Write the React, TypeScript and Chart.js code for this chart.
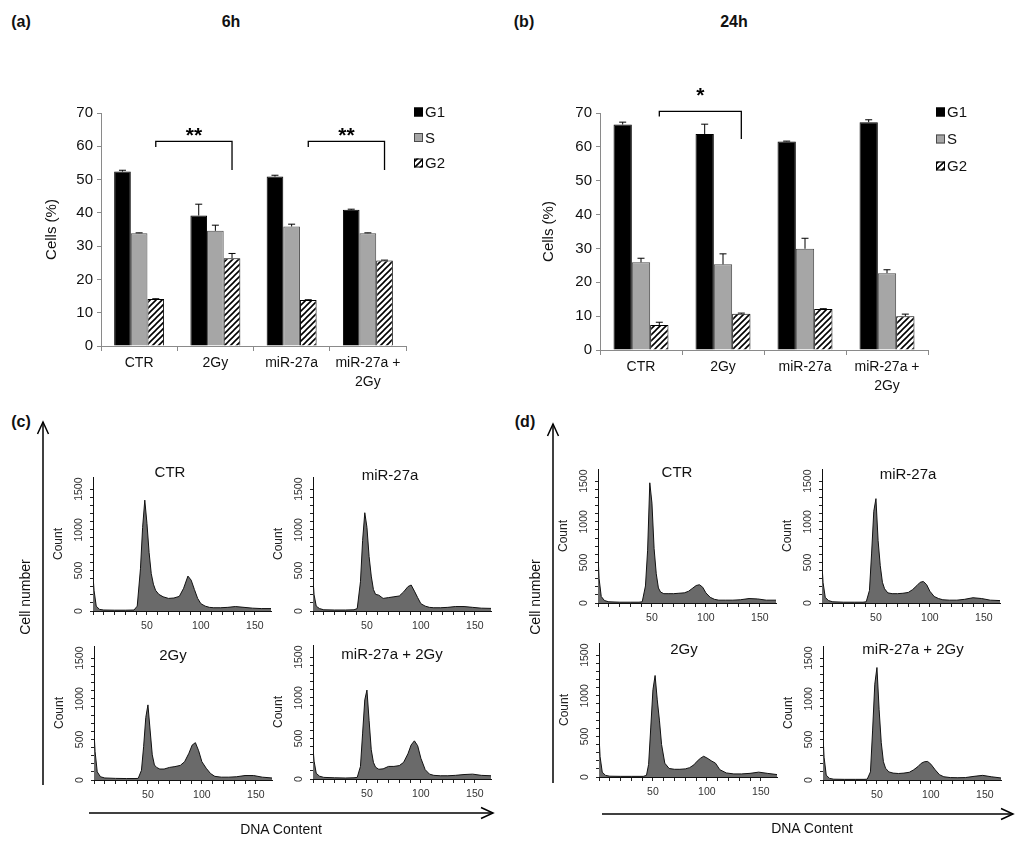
import React, { useEffect, useRef } from 'react';
import { Chart, registerables } from 'chart.js';

Chart.register(...registerables);

const FONT = 'Arial, "Liberation Sans", Helvetica, sans-serif';

// ---- (a) / (b) cell cycle bars ----
const groupLabels: (string | string[])[] = ['CTR', '2Gy', 'miR-27a', ['miR-27a +', '2Gy']];
const phaseNames = ['G1', 'S', 'G2'];

const g1At6h = [52.4, 39.2, 50.9, 40.9];
const sAt6h = [33.9, 34.6, 35.9, 33.9];
const g2At6h = [14.1, 26.4, 13.8, 25.7];
const g1Err6h = [0.4, 3.4, 0.4, 0.2];
const sErr6h = [0.1, 1.7, 0.7, 0.1];
const g2Err6h = [0.1, 1.4, 0.1, 0.1];

const g1At24h = [66.6, 63.8, 61.6, 67.3];
const sAt24h = [25.9, 25.3, 29.9, 22.7];
const g2At24h = [7.4, 10.7, 12.1, 10.0];
const g1Err24h = [0.7, 2.9, 0.1, 0.7];
const sErr24h = [1.2, 3.1, 3.1, 1.0];
const g2Err24h = [0.8, 0.2, 0.1, 0.6];

// significance brackets (group index of G2 bars, heights in %)
const sig6hFrom = [0, 2];
const sig6hTo = [1, 3];
const sig6hTop = [61.5, 61.5];
const sig6hLeftEnd = [59.8, 59.8];
const sig6hRightEnd = [52.9, 52.9];
const sig6hMark = ['**', '**'];
const sig6hMarkAt = [63.0, 63.0];

const sig24hFrom = [0];
const sig24hTo = [1];
const sig24hTop = [70.5];
const sig24hLeftEnd = [69.0];
const sig24hRightEnd = [62.3];
const sig24hMark = ['*'];
const sig24hMarkAt = [75.0];

// ---- (c) / (d) DNA content histograms ----
const dnaChannel = [0, 1, 3, 6, 10, 20, 30, 38, 41, 44, 46, 48, 50, 52, 54, 56, 58, 61, 65, 70, 75, 80, 84, 88, 91, 94, 97, 100, 104, 108, 112, 118, 125, 132, 140, 148, 156, 165];
const countTicks = [0, 500, 1000, 1500];

const ctr6h = [435, 250, 60, 20, 12, 10, 10, 12, 60, 520, 1030, 1365, 1080, 720, 460, 330, 255, 205, 175, 155, 160, 180, 280, 430, 380, 265, 155, 90, 60, 45, 40, 40, 45, 55, 45, 35, 30, 30];
const mir6h = [390, 200, 60, 30, 15, 12, 12, 15, 30, 360, 870, 1210, 1030, 670, 430, 265, 205, 195, 155, 165, 175, 185, 235, 300, 320, 245, 165, 90, 60, 45, 40, 40, 45, 55, 55, 45, 35, 32];
const gy6h = [595, 350, 100, 40, 25, 20, 18, 18, 20, 120, 410, 770, 925, 615, 310, 185, 155, 135, 135, 155, 165, 180, 225, 330, 430, 460, 360, 225, 145, 80, 45, 35, 35, 40, 55, 55, 35, 25];
const mirGy6h = [385, 220, 70, 35, 20, 15, 12, 15, 20, 155, 565, 975, 1095, 720, 360, 205, 145, 120, 125, 155, 155, 165, 205, 310, 420, 470, 410, 255, 115, 60, 45, 40, 40, 45, 55, 60, 45, 40];

const ctr24h = [595, 300, 80, 30, 15, 10, 10, 10, 15, 210, 650, 1480, 1230, 670, 360, 185, 135, 115, 115, 115, 120, 125, 145, 185, 215, 225, 195, 125, 70, 45, 35, 35, 35, 40, 55, 50, 35, 35];
const mir24h = [465, 250, 70, 30, 15, 10, 10, 10, 15, 155, 615, 1130, 1285, 770, 460, 255, 175, 125, 115, 115, 120, 130, 165, 215, 255, 265, 225, 145, 80, 55, 40, 35, 35, 45, 65, 55, 35, 30];
const gy24h = [510, 250, 60, 20, 10, 8, 8, 8, 8, 20, 155, 615, 1075, 1250, 950, 700, 400, 170, 105, 95, 95, 100, 115, 150, 195, 230, 255, 235, 200, 170, 90, 50, 38, 38, 45, 60, 45, 30];
const mirGy24h = [550, 280, 60, 20, 10, 8, 8, 8, 10, 100, 615, 1180, 1385, 870, 460, 225, 145, 100, 85, 80, 85, 95, 125, 165, 205, 225, 228, 195, 125, 65, 40, 30, 28, 30, 45, 57, 40, 25];

function makeHatch(): CanvasPattern | string {
  const tile = document.createElement('canvas');
  tile.width = 6;
  tile.height = 6;
  const c = tile.getContext('2d');
  if (!c) return '#fff';
  c.fillStyle = '#fff';
  c.fillRect(0, 0, 6, 6);
  c.strokeStyle = '#000';
  c.lineWidth = 1.6;
  c.beginPath();
  c.moveTo(0, 6); c.lineTo(6, 0);
  c.moveTo(-1, 1); c.lineTo(1, -1);
  c.moveTo(5, 7); c.lineTo(7, 5);
  c.stroke();
  return c.createPattern(tile, 'repeat') || '#fff';
}

interface BarBox {
  left: number; top: number; width: number; height: number;
  axisWidth: number; padTop: number; padRight: number; xAxisHeight: number;
  titlePad: number; legendGap: number; groupShare: number;
}

interface BarPanelProps {
  g1: number[]; s: number[]; g2: number[];
  g1Err: number[]; sErr: number[]; g2Err: number[];
  sigFrom: number[]; sigTo: number[]; sigTop: number[];
  sigLeftEnd: number[]; sigRightEnd: number[]; sigMark: string[]; sigMarkAt: number[];
  box: BarBox;
}

const BarPanel: React.FC<BarPanelProps> = (p) => {
  const ref = useRef<HTMLCanvasElement | null>(null);

  useEffect(() => {
    const ctx = ref.current?.getContext('2d');
    if (!ctx) return;
    const { box } = p;
    const hatch = makeHatch();
    const errs = [p.g1Err, p.sErr, p.g2Err];

    const errorBars = {
      id: 'errorBars',
      afterDatasetsDraw(chart: any) {
        const c = chart.ctx;
        const y = chart.scales.y;
        c.save();
        c.strokeStyle = '#000';
        c.lineWidth = 1;
        errs.forEach((e, di) => {
          chart.getDatasetMeta(di).data.forEach((bar: any, i: number) => {
            const v = chart.data.datasets[di].data[i] as number;
            const top = y.getPixelForValue(v + e[i]);
            c.beginPath();
            c.moveTo(bar.x, bar.y);
            c.lineTo(bar.x, top);
            c.moveTo(bar.x - 3.5, top);
            c.lineTo(bar.x + 3.5, top);
            c.stroke();
          });
        });
        c.restore();
      },
    };

    const brackets = {
      id: 'sigBrackets',
      afterDraw(chart: any) {
        const c = chart.ctx;
        const y = chart.scales.y;
        const g2Bars = chart.getDatasetMeta(2).data;
        c.save();
        c.strokeStyle = '#000';
        c.fillStyle = '#000';
        c.lineWidth = 1.3;
        c.font = `bold 21px ${FONT}`;
        c.textAlign = 'center';
        c.textBaseline = 'middle';
        p.sigFrom.forEach((from, k) => {
          const xL = g2Bars[from].x;
          const xR = g2Bars[p.sigTo[k]].x;
          const yTop = y.getPixelForValue(p.sigTop[k]);
          c.beginPath();
          c.moveTo(xL, y.getPixelForValue(p.sigLeftEnd[k]));
          c.lineTo(xL, yTop);
          c.lineTo(xR, yTop);
          c.lineTo(xR, y.getPixelForValue(p.sigRightEnd[k]));
          c.stroke();
          c.fillText(p.sigMark[k], (xL + xR) / 2, y.getPixelForValue(p.sigMarkAt[k]));
        });
        c.restore();
      },
    };

    const sideLegend = {
      id: 'sideLegend',
      afterDraw(chart: any) {
        const c = chart.ctx;
        const area = chart.chartArea;
        c.save();
        chart.data.datasets.forEach((ds: any, i: number) => {
          const cy = area.top - 1 + i * box.legendGap;
          const x = area.right + 8;
          c.fillStyle = ds.backgroundColor;
          c.fillRect(x, cy - 4.5, 9, 9);
          c.strokeStyle = ds.borderColor;
          c.lineWidth = 1;
          c.strokeRect(x + 0.5, cy - 4, 8, 8);
          c.fillStyle = '#111';
          c.font = `15px ${FONT}`;
          c.textAlign = 'left';
          c.textBaseline = 'middle';
          c.fillText(ds.label, x + 11, cy + 1);
        });
        c.restore();
      },
    };

    const common = { barPercentage: 1, categoryPercentage: box.groupShare, borderWidth: 1 };
    const tickFont = { family: FONT, size: 14, lineHeight: 1.35 };

    const chart = new Chart(ctx, {
      type: 'bar',
      data: {
        labels: groupLabels as any,
        datasets: [
          { label: phaseNames[0], data: p.g1, backgroundColor: '#000', borderColor: '#000', ...common },
          { label: phaseNames[1], data: p.s, backgroundColor: '#a6a6a6', borderColor: '#4a4a4a', ...common },
          { label: phaseNames[2], data: p.g2, backgroundColor: hatch as any, borderColor: '#000', ...common },
        ],
      },
      options: {
        responsive: false,
        animation: false,
        layout: { padding: { top: box.padTop, right: box.padRight, left: 0, bottom: 0 } },
        plugins: { legend: { display: false }, tooltip: { enabled: false } },
        scales: {
          x: {
            grid: { display: true, drawOnChartArea: false, offset: true, tickLength: 5, color: '#8a8a8a' },
            border: { color: '#8a8a8a' },
            ticks: { font: tickFont, color: '#111', padding: 3, maxRotation: 0, autoSkip: false },
            afterFit: (sc: any) => { sc.height = box.xAxisHeight; },
          },
          y: {
            min: 0,
            max: 70,
            ticks: { stepSize: 10, font: { family: FONT, size: 15 }, color: '#111', padding: 4 },
            grid: { drawOnChartArea: false, tickLength: 4, color: '#8a8a8a' },
            border: { color: '#8a8a8a' },
            title: {
              display: true,
              text: 'Cells (%)',
              font: { family: FONT, size: 15 },
              color: '#111',
              padding: { top: box.titlePad, bottom: 0 },
            },
            afterFit: (sc: any) => { sc.width = box.axisWidth; },
          },
        },
      },
      plugins: [errorBars, brackets, sideLegend],
    });

    return () => {
      chart.destroy();
    };
  }, [p]);

  return (
    <canvas
      ref={ref}
      width={p.box.width}
      height={p.box.height}
      style={{ position: 'absolute', left: p.box.left, top: p.box.top }}
    />
  );
};

interface HistProps {
  title: string;
  counts: number[];
  left: number; // plot area left edge on the page
  top: number; // plot area top edge on the page
  titleDx: number;
  titleDy: number;
}

const PLOT_W = 178;
const PLOT_H = 134;
const Y_BOX = 62;
const TOP_PAD = 20;
const RIGHT_PAD = 10;
const X_BOX = 26;

const Histogram: React.FC<HistProps> = ({ title, counts, left, top, titleDx, titleDy }) => {
  const ref = useRef<HTMLCanvasElement | null>(null);

  useEffect(() => {
    const ctx = ref.current?.getContext('2d');
    if (!ctx) return;

    const histText = {
      id: 'histText',
      afterDraw(chart: any) {
        const c = chart.ctx;
        const area = chart.chartArea;
        const y = chart.scales.y;
        c.save();
        c.fillStyle = '#333';
        c.font = `10.5px ${FONT}`;
        c.textAlign = 'center';
        c.textBaseline = 'middle';
        countTicks.forEach((v) => {
          c.save();
          c.translate(area.left - 14, y.getPixelForValue(v));
          c.rotate(-Math.PI / 2);
          c.fillText(String(v), 0, 0);
          c.restore();
        });
        c.fillStyle = '#111';
        c.font = `15px ${FONT}`;
        c.fillText(title, area.left + titleDx, area.top + titleDy);
        c.restore();
      },
    };

    const chart = new Chart(ctx, {
      type: 'line',
      data: {
        datasets: [
          {
            label: title,
            data: dnaChannel.map((x, i) => ({ x, y: counts[i] })),
            fill: 'origin',
            backgroundColor: '#6a6a6a',
            borderColor: '#111',
            borderWidth: 1,
            pointRadius: 0,
            tension: 0,
          },
        ],
      },
      options: {
        responsive: false,
        animation: false,
        layout: { padding: { top: TOP_PAD, right: RIGHT_PAD, left: 0, bottom: 0 } },
        plugins: { legend: { display: false }, tooltip: { enabled: false } },
        scales: {
          x: {
            type: 'linear',
            min: 0,
            max: 165,
            ticks: {
              stepSize: 10,
              autoSkip: false,
              maxRotation: 0,
              padding: 5,
              font: { family: FONT, size: 10.5 },
              color: '#333',
              callback: (v: any) => (Number(v) % 50 === 0 && Number(v) > 0 ? String(v) : ''),
            },
            afterBuildTicks: (sc: any) => { sc.ticks = sc.ticks.filter((t: any) => t.value % 10 === 0); },
            grid: { drawOnChartArea: false, tickLength: 4, color: '#222' },
            border: { color: '#111' },
            afterFit: (sc: any) => { sc.height = X_BOX; },
          },
          y: {
            min: 0,
            max: 1650,
            ticks: { stepSize: 100, display: false },
            afterBuildTicks: (sc: any) => { sc.ticks = sc.ticks.filter((t: any) => t.value % 100 === 0); },
            grid: { drawOnChartArea: false, tickLength: 3, color: '#222' },
            border: { color: '#111' },
            title: {
              display: true,
              text: 'Count',
              font: { family: FONT, size: 12 },
              color: '#222',
              padding: { top: 20, bottom: 0 },
            },
            afterFit: (sc: any) => { sc.width = Y_BOX; },
          },
        },
      },
      plugins: [histText],
    });

    return () => {
      chart.destroy();
    };
  }, [title, counts, titleDx, titleDy]);

  return (
    <canvas
      ref={ref}
      width={Y_BOX + PLOT_W + RIGHT_PAD}
      height={TOP_PAD + PLOT_H + X_BOX}
      style={{ position: 'absolute', left: left - Y_BOX, top: top - TOP_PAD }}
    />
  );
};

const boxA: BarBox = {
  left: 0, top: 60, width: 470, height: 340,
  axisWidth: 101, padTop: 53, padRight: 64, xAxisHeight: 54,
  titlePad: 43, legendGap: 25.5, groupShare: 0.655,
};
const boxB: BarBox = {
  left: 500, top: 60, width: 490, height: 340,
  axisWidth: 100, padTop: 53, padRight: 62, xAxisHeight: 50,
  titlePad: 40, legendGap: 27, groupShare: 0.67,
};

const Label: React.FC<{ x: number; y: number; bold?: boolean; size: number; rotate?: boolean; children: React.ReactNode }> = ({ x, y, bold, size, rotate, children }) => (
  <div
    style={{
      position: 'absolute',
      left: x,
      top: y,
      transform: `translate(-50%, -50%)${rotate ? ' rotate(-90deg)' : ''}`,
      fontWeight: bold ? 'bold' : 'normal',
      fontSize: size,
      lineHeight: 1,
      whiteSpace: 'nowrap',
      color: '#111',
    }}
  >
    {children}
  </div>
);

const App: React.FC = () => {
  return (
    <div
      style={{
        position: 'absolute', left: 0, top: 0, width: 1024, height: 844,
        background: '#fff', fontFamily: FONT, overflow: 'hidden',
      }}
    >
      <Label x={21} y={22} bold size={16}>(a)</Label>
      <Label x={231} y={22} bold size={16}>6h</Label>
      <Label x={524} y={22} bold size={16}>(b)</Label>
      <Label x={734} y={22} bold size={16}>24h</Label>
      <Label x={21} y={422} bold size={16}>(c)</Label>
      <Label x={525} y={422} bold size={16}>(d)</Label>

      <BarPanel
        g1={g1At6h} s={sAt6h} g2={g2At6h}
        g1Err={g1Err6h} sErr={sErr6h} g2Err={g2Err6h}
        sigFrom={sig6hFrom} sigTo={sig6hTo} sigTop={sig6hTop}
        sigLeftEnd={sig6hLeftEnd} sigRightEnd={sig6hRightEnd}
        sigMark={sig6hMark} sigMarkAt={sig6hMarkAt}
        box={boxA}
      />
      <BarPanel
        g1={g1At24h} s={sAt24h} g2={g2At24h}
        g1Err={g1Err24h} sErr={sErr24h} g2Err={g2Err24h}
        sigFrom={sig24hFrom} sigTo={sig24hTo} sigTop={sig24hTop}
        sigLeftEnd={sig24hLeftEnd} sigRightEnd={sig24hRightEnd}
        sigMark={sig24hMark} sigMarkAt={sig24hMarkAt}
        box={boxB}
      />

      <Histogram title="CTR" counts={ctr6h} left={93} top={477} titleDx={77} titleDy={-4} />
      <Histogram title="miR-27a" counts={mir6h} left={313} top={477} titleDx={77} titleDy={-1} />
      <Histogram title="2Gy" counts={gy6h} left={94} top={646} titleDx={79} titleDy={10} />
      <Histogram title="miR-27a + 2Gy" counts={mirGy6h} left={313} top={645} titleDx={79} titleDy={10} />

      <Histogram title="CTR" counts={ctr24h} left={598} top={469} titleDx={79} titleDy={4} />
      <Histogram title="miR-27a" counts={mir24h} left={822} top={469} titleDx={86} titleDy={6} />
      <Histogram title="2Gy" counts={gy24h} left={599} top={643} titleDx={85} titleDy={7} />
      <Histogram title="miR-27a + 2Gy" counts={mirGy24h} left={823} top={646} titleDx={90} titleDy={4} />

      <svg width={1024} height={844} style={{ position: 'absolute', left: 0, top: 0, pointerEvents: 'none' }}>
        <g stroke="#000" strokeWidth={1.5} fill="none">
          <line x1={43} y1={785} x2={43} y2={422} />
          <polyline points="37.5,434 43,422 48.5,434" />
          <line x1={89} y1={813} x2={493} y2={813} />
          <polyline points="481,807.5 493,813 481,818.5" />
          <line x1={553} y1={783} x2={553} y2={424} />
          <polyline points="547.5,436 553,424 558.5,436" />
          <line x1={602} y1={814} x2={1013} y2={814} />
          <polyline points="1001,808.5 1013,814 1001,819.5" />
        </g>
      </svg>

      <Label x={25} y={597} size={14} rotate>Cell number</Label>
      <Label x={535} y={597} size={14} rotate>Cell number</Label>
      <Label x={281} y={829} size={14}>DNA Content</Label>
      <Label x={812} y={828} size={14}>DNA Content</Label>
    </div>
  );
};

export default App;
